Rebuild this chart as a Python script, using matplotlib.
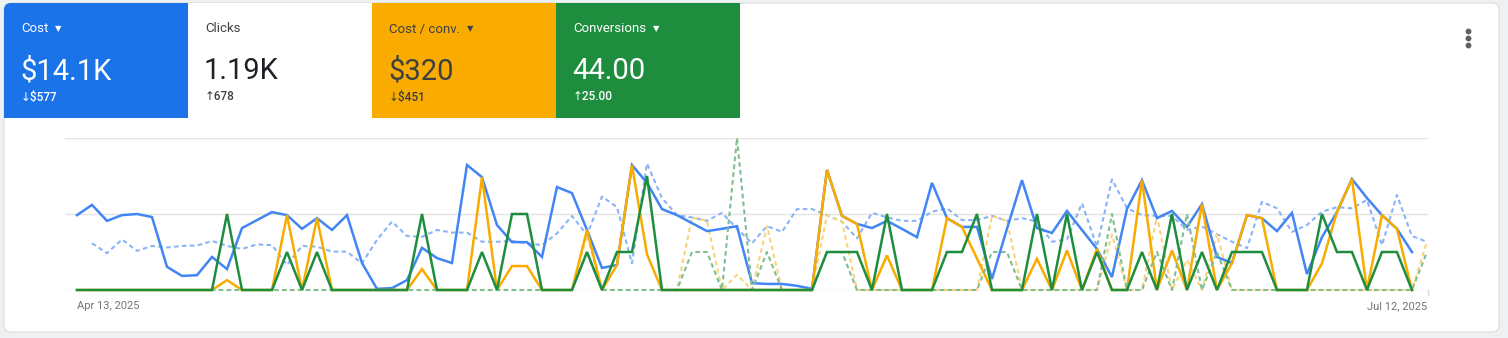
import matplotlib
matplotlib.use("Agg")
import matplotlib.pyplot as plt
from matplotlib.patches import FancyBboxPatch, Rectangle
import numpy as np

nan = np.nan
W, H = 1508, 338

# scorecards
tile_names = ["Cost", "Clicks", "Cost / conv.", "Conversions"]
tile_values = ["$14.1K", "1.19K", "$320", "44.00"]
tile_deltas = ["$577", "678", "$451", "25.00"]
tile_arrows = ["↓", "↑", "↓", "↑"]
tile_menu = [True, False, True, True]
tile_colors = ["#1a73e8", "#ffffff", "#f9ab00", "#1e8e3e"]
tile_text = ["#ffffff", "#3c4043", "#3c4043", "#ffffff"]

start_label = "Apr 13, 2025"
end_label = "Jul 12, 2025"

# daily values, Apr 13 .. Jul 12 (current period) and previous period
cost = [197, 224, 182, 197, 200, 192, 61, 37, 39, 87,
        55, 163, 184, 205, 197, 161, 189, 158, 197, 71,
        3, 5, 26, 111, 84, 71, 329, 297, 171, 126,
        126, 87, 271, 255, 158, 58, 66, 329, 282, 213,
        197, 176, 155, 161, 168, 18, 16, 16, 11, 3,
        316, 195, 174, 163, 182, 161, 139, 282, 189, 166,
        166, 29, 161, 289, 163, 150, 208, 158, 108, 34,
        213, 289, 189, 208, 166, 226, 87, 71, 197, 189,
        155, 203, 42, 139, 205, 292, 242, 197, 161, 100, nan]
cost_per_conv = [0, 0, 0, 0, 0, 0, 0, 0, 0, 0,
                 26, 0, 0, 0, 197, 0, 189, 0, 0, 0,
                 0, 0, 0, 55, 0, 0, 0, 297, 0, 63,
                 63, 0, 0, 0, 158, 0, 66, 329, 94, 0,
                 0, 0, 0, 0, 0, 0, 0, 0, 0, 0,
                 316, 195, 174, 0, 91, 0, 0, 0, 189, 166,
                 83, 0, 0, 0, 82, 0, 104, 0, 108, 0,
                 0, 289, 0, 104, 0, 226, 0, 71, 197, 189,
                 0, 0, 0, 70, 205, 292, 0, 197, 161, 0, nan]
conversions = [0, 0, 0, 0, 0, 0, 0, 0, 0, 0,
               2, 0, 0, 0, 1, 0, 1, 0, 0, 0,
               0, 0, 0, 2, 0, 0, 0, 1, 0, 2,
               2, 0, 0, 0, 1, 0, 1, 1, 3, 0,
               0, 0, 0, 0, 0, 0, 0, 0, 0, 0,
               1, 1, 1, 0, 2, 0, 0, 0, 1, 1,
               2, 0, 0, 0, 2, 0, 2, 0, 1, 0,
               0, 1, 0, 2, 0, 1, 0, 1, 1, 1,
               0, 0, 0, 2, 1, 1, 0, 1, 1, 0, nan]

prev_cost = [nan, 123, 97, 133, 103, 116, 112, 116, 117, 129,
             116, 108, 120, 118, 66, 116, 114, 101, 101, 70,
             132, 180, 142, 140, 158, 151, 151, 127, 127, 129,
             123, 118, 149, 195, 145, 246, 218, 70, 333, 242,
             197, 191, 182, 203, 162, 123, 168, 153, 213, 213,
             197, 180, 136, 203, 191, 182, 182, 206, 215, 184,
             184, 195, 182, 189, 180, 127, 133, 228, 114, 291,
             215, 197, 195, 195, 158, 167, 147, 127, 110, 232,
             215, 153, 171, 206, 218, 215, 237, 118, 250, 142, 127]
prev_cost_per_conv = [nan, 0, 0, 0, 0, 0, 0, 0, 0, 0,
                      0, 0, 0, 0, 0, 0, 0, 0, 0, 0,
                      0, 0, 0, 0, 0, 0, 0, 0, 0, 0,
                      0, 0, 0, 0, 145, 0, 0, 0, 0, 0,
                      0, 191, 182, 0, 40, 0, 168, 0, 0, 0,
                      197, 180, 0, 0, 0, 0, 0, 0, 0, 0,
                      0, 195, 182, 0, 0, 0, 0, 0, 0, 146,
                      0, 0, 195, 0, 79, 0, 147, 0, 0, 0,
                      0, 0, 0, 0, 0, 0, 0, 0, 0, 0, 127]
prev_conversions = [nan, 0, 0, 0, 0, 0, 0, 0, 0, 0,
                    0, 0, 0, 0, 0, 0, 0, 0, 0, 0,
                    0, 0, 0, 0, 0, 0, 0, 0, 0, 0,
                    0, 0, 0, 0, 1, 0, 0, 0, 0, 0,
                    0, 1, 1, 0, 4, 0, 1, 0, 0, 0,
                    1, 1, 0, 0, 0, 0, 0, 0, 0, 0,
                    0, 1, 1, 0, 0, 0, 0, 0, 0, 2,
                    0, 0, 1, 0, 2, 0, 1, 0, 0, 0,
                    0, 0, 0, 0, 0, 0, 0, 0, 0, 0, 1]

days = np.arange(len(cost))

plt.rcParams['font.family'] = ['Roboto', 'DejaVu Sans']

fig = plt.figure(figsize=(W / 100, H / 100), dpi=100, facecolor="#eef0f1")

# background layer in pixel coordinates
bg = fig.add_axes([0, 0, 1, 1], zorder=0)
bg.set_xlim(0, W)
bg.set_ylim(H, 0)
bg.axis("off")

card = FancyBboxPatch((4, 3), 1495, 329, boxstyle="round,pad=0,rounding_size=7",
                      fc="white", ec="#dadce0", lw=0.8)
bg.add_patch(card)

tile_w = 184
for k in range(4):
    x0 = 4 + k * tile_w
    r = Rectangle((x0, 3), tile_w, 115, fc=tile_colors[k], ec="none")
    bg.add_patch(r)
    r.set_clip_path(card)
    c = tile_text[k]
    lab = bg.text(x0 + 17, 29, tile_names[k], color=c, fontsize=9.5, va="center", ha="left")
    if tile_menu[k]:
        bg.annotate("▼", xy=(1, 0.5), xycoords=lab, xytext=(5, 0), textcoords="offset points",
                    color=c, fontsize=6, va="center", ha="left", family="DejaVu Sans")
    bg.text(x0 + 16, 79, tile_values[k], color=c if k != 1 else "#202124",
            fontsize=21, va="baseline", ha="left")
    bg.text(x0 + 17, 97, tile_arrows[k] + tile_deltas[k], color=c,
            fontsize=8.5, fontweight="medium", va="center", ha="left")

# overflow menu dots
bg.plot([1468, 1468, 1468], [31, 38, 45], "o", ms=3.2, color="#5f6368")

# chart
ax = fig.add_axes([65 / W, (H - 290) / H, 1363 / W, 152 / H], zorder=2)
ax.patch.set_visible(False)
ax.set_xlim(-0.8, 90.07)
ax.set_ylim(0, 400)
ax.axis("off")
for gy in (200, 400):
    ax.axhline(gy, color="#e3e3e3", lw=1, zorder=0)
ax.axhline(0, color="#dadce0", lw=1, zorder=0)

dash = (0, (2.2, 1.6))
ax.plot(days, prev_cost, color="#8ab4f8", lw=1.5, ls=dash, zorder=1, clip_on=False)
ax.plot(days, prev_cost_per_conv, color="#fcd27a", lw=1.5, ls=dash, zorder=1, clip_on=False)
ax.plot(days, cost, color="#4285f4", lw=1.8, zorder=2, clip_on=False,
        solid_joinstyle="miter")
ax.plot(days, cost_per_conv, color="#f9ab00", lw=1.8, zorder=3, clip_on=False,
        solid_joinstyle="miter")

axc = ax.twinx()
axc.set_ylim(0, 4)
axc.axis("off")
axc.plot(days, prev_conversions, color="#7fbf8f", lw=1.5, ls=dash, zorder=1, clip_on=False)
axc.plot(days, conversions, color="#1e8e3e", lw=1.8, zorder=3, clip_on=False,
         solid_joinstyle="miter")

bg.text(77, 306, start_label, color="#70757a", fontsize=8, ha="left", va="center")
bg.text(1427, 306, end_label, color="#70757a", fontsize=8, ha="right", va="center")
bg.plot([1428, 1428], [290, 295], color="#dadce0", lw=1)

fig.savefig("out.png", dpi=100, facecolor=fig.get_facecolor())
